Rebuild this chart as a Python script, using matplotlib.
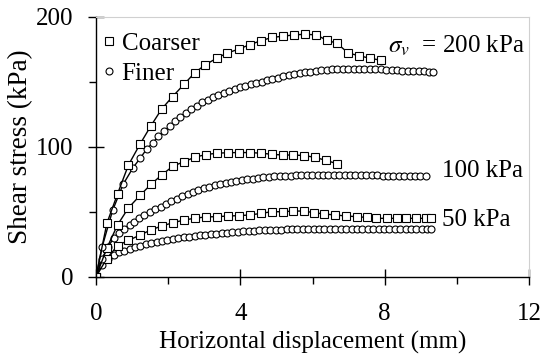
import matplotlib
matplotlib.use("Agg")
import matplotlib.pyplot as plt
from matplotlib.lines import Line2D
from matplotlib.ticker import MultipleLocator

plt.rcParams['font.family'] = ['Liberation Serif', 'DejaVu Serif']
plt.rcParams['mathtext.fontset'] = 'stix'

# Coarser sand (squares)
coarse200_x = [0, 0.30, 0.60, 0.90, 1.22, 1.52, 1.82, 2.12, 2.44, 2.74, 3.03, 3.34, 3.63, 3.95,
               4.26, 4.57, 4.87, 5.18, 5.49, 5.79, 6.10, 6.39, 6.68, 6.99, 7.29, 7.59, 7.90]
coarse200_y = [0, 41, 64, 86, 102, 116, 129, 138.5, 148, 157, 163, 168, 172, 175,
               178.5, 181.5, 184, 185, 186, 186.5, 186, 182, 179.5, 172, 170, 168, 166.5]

coarse100_x = [0, 0.30, 0.60, 0.90, 1.22, 1.52, 1.83, 2.13, 2.44, 2.75, 3.05, 3.36,
               3.66, 3.97, 4.27, 4.57, 4.87, 5.17, 5.47, 5.77, 6.07, 6.37, 6.67]
coarse100_y = [0, 22, 40, 53, 62.5, 71, 78.5, 85, 88.5, 92, 94, 95,
               95.4, 95.5, 95.5, 95, 94.2, 93.6, 93.6, 93.2, 91.8, 89.5, 87]

coarse50_x = [0, 0.30, 0.60, 0.90, 1.22, 1.52, 1.82, 2.13, 2.44, 2.74, 3.05, 3.36, 3.66,
              3.97, 4.27, 4.57, 4.87, 5.17, 5.47, 5.75, 6.03, 6.33, 6.63, 6.93, 7.22,
              7.50, 7.77, 8.05, 8.33, 8.60, 8.88, 9.15, 9.27]
coarse50_y = [0, 14, 24, 28, 32, 36, 39, 41.5, 43.6, 45, 46, 46.2, 46.7,
              47, 47.5, 48.7, 50, 50, 50.5, 50.5, 49.3, 48.2, 47.5, 46.7, 46.2,
              45.6, 44.9, 44.9, 44.9, 44.9, 44.9, 44.9, 44.9]

# Finer sand (circles)
fine200_x = [0, 0.17, 0.46, 0.75, 1.03, 1.22, 1.40, 1.57, 1.73, 1.89,
             2.04, 2.19, 2.34, 2.49, 2.64, 2.79, 2.94, 3.09, 3.24, 3.39,
             3.54, 3.69, 3.84, 3.99, 4.14, 4.29, 4.44, 4.59, 4.74, 4.89,
             5.04, 5.19, 5.34, 5.49, 5.64, 5.79, 5.94, 6.09, 6.24, 6.39,
             6.54, 6.69, 6.84, 6.99, 7.14, 7.29, 7.44, 7.59, 7.74, 7.89,
             8.04, 8.19, 8.34, 8.49, 8.64, 8.79, 8.94, 9.09, 9.24, 9.33]
fine200_y = [0, 23, 51, 71, 84, 91, 98, 103, 108, 112,
             116, 119.5, 123, 126, 129, 131.5, 134, 136, 138, 140,
             141.5, 143, 144.5, 146, 147, 148, 149, 150, 151, 152,
             153, 154, 155, 155.8, 156.5, 157.2, 157.8, 158.3, 158.8, 159.2,
             159.5, 159.8, 160, 160, 160, 160, 160, 159.8, 159.6, 159.4,
             159.2, 159, 158.8, 158.6, 158.4, 158.2, 158, 158, 157.8, 157.8]

fine100_x = [0, 0.17, 0.33, 0.49, 0.64, 0.77, 0.93, 1.04,
             1.19, 1.34, 1.49, 1.64, 1.79, 1.94, 2.09, 2.24, 2.39, 2.54,
             2.69, 2.84, 2.99, 3.14, 3.29, 3.44, 3.59, 3.74, 3.89, 4.04,
             4.19, 4.34, 4.49, 4.64, 4.79, 4.94, 5.09, 5.24, 5.39, 5.54,
             5.69, 5.84, 5.99, 6.14, 6.29, 6.44, 6.59, 6.74, 6.89, 7.04,
             7.19, 7.34, 7.49, 7.64, 7.79, 7.94, 8.09, 8.24, 8.39, 8.54,
             8.69, 8.84, 8.99, 9.14]
fine100_y = [0, 14, 23, 29.5, 34, 37, 40, 42.3,
             45, 47.5, 50, 52, 54, 56, 58, 60, 62, 63.5,
             65, 66.5, 68, 69, 70.2, 71.2, 72.2, 73, 73.8, 74.5,
             75, 75.5, 76, 76.4, 76.8, 77.1, 77.4, 77.6, 77.8, 78,
             78, 78, 78, 78, 78, 78, 78, 78, 78, 78,
             78, 78, 78, 77.9, 77.9, 77.8, 77.8, 77.7, 77.7, 77.6,
             77.6, 77.5, 77.5, 77.5]

fine50_x = [0, 0.17, 0.33, 0.49, 0.64, 0.77, 0.93,
            1.08, 1.23, 1.38, 1.53, 1.68, 1.83, 1.98, 2.13, 2.28, 2.43,
            2.58, 2.73, 2.88, 3.03, 3.18, 3.33, 3.48, 3.63, 3.78, 3.93,
            4.08, 4.23, 4.38, 4.53, 4.68, 4.83, 4.98, 5.13, 5.28, 5.43,
            5.58, 5.73, 5.88, 6.03, 6.18, 6.33, 6.48, 6.63, 6.78, 6.93,
            7.08, 7.23, 7.38, 7.53, 7.68, 7.83, 7.98, 8.13, 8.28, 8.43,
            8.58, 8.73, 8.88, 9.03, 9.18, 9.29]
fine50_y = [0, 9, 14, 17, 19, 20, 21.5,
            22.7, 23.8, 24.8, 25.8, 26.7, 27.5, 28.3, 29, 29.7, 30.3,
            30.9, 31.4, 31.9, 32.4, 32.8, 33.2, 33.6, 34, 34.3, 34.6,
            34.9, 35.2, 35.4, 35.6, 35.8, 36, 36.2, 36.3, 36.4, 36.5,
            36.6, 36.7, 36.8, 36.9, 37, 37, 37, 37, 37, 37,
            37, 37, 37, 37, 37, 37, 37, 37, 37, 37,
            37, 37, 37, 37, 37, 37]

FS = 18

fig = plt.figure(figsize=(5.44, 3.62), dpi=100)
ax = fig.add_axes([0.1765, 0.2356, 0.7960, 0.7183])

sq = dict(color='black', lw=1.0, marker='s', ms=5.2, mfc='white', mec='black', mew=0.8)
ci = dict(color='black', lw=1.0, marker='o', ms=5, mfc='white', mec='black', mew=0.8)

ax.plot(fine50_x, fine50_y, **ci)
ax.plot(coarse50_x, coarse50_y, **sq)
ax.plot(fine100_x, fine100_y, **ci)
ax.plot(coarse100_x, coarse100_y, **sq)
ax.plot(fine200_x, fine200_y, **ci)
ax.plot(coarse200_x, coarse200_y, **sq)

ax.set_xlim(0, 12)
ax.set_ylim(0, 200)
ax.xaxis.set_major_locator(MultipleLocator(4))
ax.xaxis.set_minor_locator(MultipleLocator(2))
ax.yaxis.set_major_locator(MultipleLocator(100))
ax.yaxis.set_minor_locator(MultipleLocator(50))
ax.tick_params(which='major', direction='inout', length=12, width=1, labelsize=FS)
ax.tick_params(which='minor', direction='out', length=5, width=1)
ax.tick_params(axis='x', which='major', pad=13)
ax.tick_params(axis='y', which='major', pad=10)

for s in ['top', 'right']:
    ax.spines[s].set_color('#d0d0d0')
for s in ['left', 'bottom']:
    ax.spines[s].set_linewidth(1)

ax.set_xlabel('Horizontal displacement (mm)', fontsize=FS, labelpad=4)
ax.set_ylabel('Shear stress (kPa)', fontsize=19.5, labelpad=2)

ax.text(8.08, 177.5, r'$\sigma_v$  = 200 kPa', fontsize=FS, va='center', ha='left')
ax.text(9.6, 81.5, '100 kPa', fontsize=FS, va='center', ha='left')
ax.text(9.6, 43.6, '50 kPa', fontsize=FS, va='center', ha='left')

handles = [Line2D([], [], ls='none', marker='s', ms=5.2, mfc='white', mec='black', mew=0.8),
           Line2D([], [], ls='none', marker='o', ms=5, mfc='white', mec='black', mew=0.8)]
ax.legend(handles, ['Coarser', 'Finer'], loc='upper left', bbox_to_anchor=(0.013, 0.94),
          frameon=False, fontsize=FS, handlelength=0.6, handletextpad=0.2,
          labelspacing=0.3, borderaxespad=0, borderpad=0)

fig.savefig('out.png', dpi=100)
